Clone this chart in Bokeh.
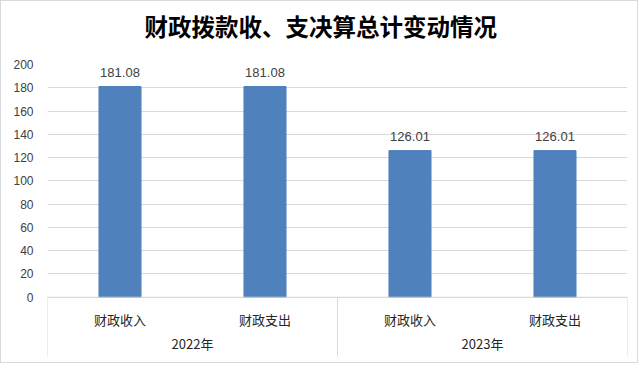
from bokeh.plotting import figure
from bokeh.models import FactorRange, Range1d, FixedTicker, ColumnDataSource, Title
from bokeh.core.properties import value
from bokeh.embed import file_html
from bokeh.resources import INLINE

title_text = "财政拨款收、支决算总计变动情况"
years = ["2022年", "2022年", "2023年", "2023年"]
items = ["财政收入", "财政支出", "财政收入", "财政支出"]
amounts = [181.08, 181.08, 126.01, 126.01]
y_ticks = [0, 20, 40, 60, 80, 100, 120, 140, 160, 180, 200]
group_names = ["2022年", "2023年"]

factors = list(zip(years, items))
src = ColumnDataSource(dict(x=factors, y=amounts, lbl=[f"{v:.2f}" for v in amounts]))

FONT = "Noto Sans CJK SC"
W, H = 638, 363

# layout (data units below zero hold the category axis band)
SUB_Y = -19
GRP_Y = -40
SEP_Y = -51

p = figure(width=W, height=H, output_backend="svg", toolbar_location=None, title=None,
           x_range=FactorRange(*factors, group_padding=0, factor_padding=0, range_padding=0),
           y_range=Range1d(-57.8, 200),
           min_border_left=46, min_border_right=12, min_border_top=0, min_border_bottom=0)
p.styles = {"border": "1px solid #d9d9d9"}

spacer = Title(text=" ", text_font_size="13px", standoff=0)
main_title = Title(text=title_text, align="left", offset=97, standoff=10,
                   text_font=FONT, text_font_size="23.5px", text_font_style="bold",
                   text_color="#000000")
p.add_layout(spacer, "above")
p.add_layout(main_title, "above")

p.vbar(x="x", top="y", width=0.29, source=src, fill_color="#4F81BD", line_color="#4F81BD")
p.text(x="x", y="y", text="lbl", source=src, text_align="center", text_baseline="bottom",
       y_offset=-10, text_font=value("Liberation Sans"), text_font_size="13px", text_color="#404040")

# category axis band
n = len(factors)
sub_src = ColumnDataSource(dict(x=factors, y=[SUB_Y] * n, t=items))
p.text(x="x", y="y", text="t", source=sub_src, text_align="center", text_baseline="middle",
       text_font=value(FONT), text_font_size="13px", text_color="#262626")

per_group = n // len(group_names)
grp_x = [per_group * i + per_group / 2 for i in range(len(group_names))]
p.text(x=grp_x, y=[GRP_Y] * len(group_names), text=group_names, text_align="center",
       text_baseline="middle", text_font=value(FONT), text_font_size="13px", text_color="#262626")

sep_x = [per_group * i for i in range(len(group_names) + 1)]
p.segment(x0=sep_x, y0=[0] * len(sep_x), x1=sep_x, y1=[SEP_Y] * len(sep_x),
          line_color="#D9D9D9", line_width=1)
p.segment(x0=[0], y0=[0], x1=[n], y1=[0], line_color="#D9D9D9", line_width=1)

p.outline_line_color = None
p.xgrid.grid_line_color = None
p.ygrid.grid_line_color = "#D9D9D9"
p.ygrid.ticker = FixedTicker(ticks=y_ticks)

p.xaxis.visible = False
p.yaxis.ticker = FixedTicker(ticks=y_ticks)
p.yaxis.axis_line_color = None
p.yaxis.major_tick_line_color = None
p.yaxis.minor_tick_line_color = None
p.yaxis.major_label_text_font = "Liberation Sans"
p.yaxis.major_label_text_font_size = "12px"
p.yaxis.major_label_text_color = "#404040"
p.yaxis.major_label_standoff = 8

open("out.html", "w").write(file_html(p, INLINE))
